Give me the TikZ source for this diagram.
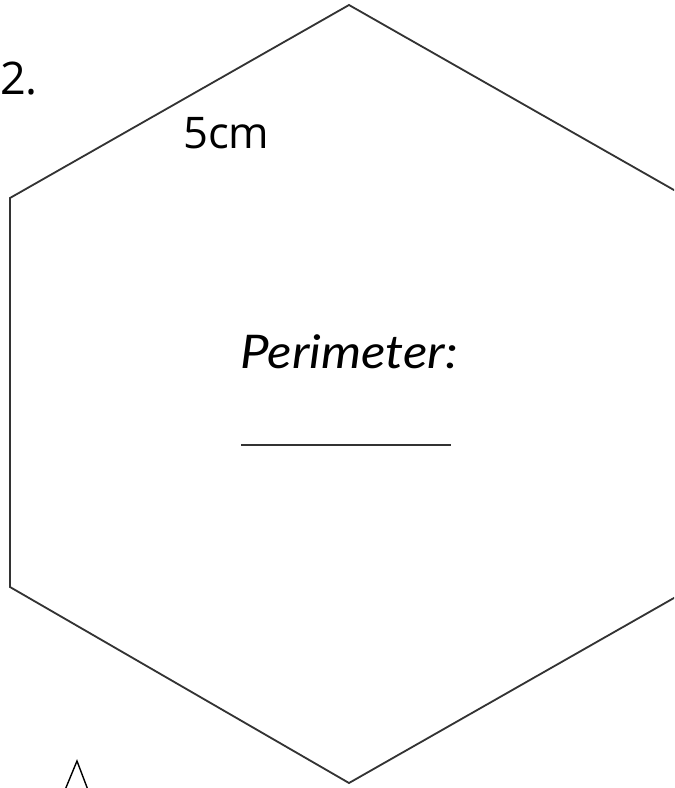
\documentclass[tikz,border=0pt]{standalone}
\usepackage{fontspec}
\setmainfont{Open Sans}
\newfontfamily\handfont{Lato}

\begin{document}
\begin{tikzpicture}[x=0.05cm,y=-0.05cm]
	\useasboundingbox (0,0) rectangle (674,788);
	\clip (0,0) rectangle (674,788);
	\coordinate (top) at (349,5);
	\coordinate (ul) at (10,198);
	\coordinate (ll) at (10,587);
	\coordinate (bot) at (349,783);
	\coordinate (lr) at (688,590);
	\coordinate (ur) at (688,198);
	% Draw the hexagon
	\draw[line width=2.6pt,black!80,line join=miter] (top) -- (ul) -- (ll) -- (bot) -- (lr) -- (ur) -- cycle;
	% Question number and side label
	\node[anchor=base west,inner sep=0pt,font=\fontsize{64}{70}\selectfont] (num) at (0,94) {2.};
	\node[anchor=base west,inner sep=0pt,font=\fontsize{62}{68}\selectfont] (side) at (183,148) {5cm};
	% Answer line
	\node[anchor=base west,inner sep=0pt,xscale=1.1,font=\handfont\itshape\fontsize{66}{72}\selectfont] (perim) at (240,368) {Perimeter:};
	\draw[line width=2pt,black!80] (241,445) -- (451,445);
	% Top of the next letter
	\draw[line width=2pt] (65,790) -- (77,761) -- (88,790);
\end{tikzpicture}
\end{document}
